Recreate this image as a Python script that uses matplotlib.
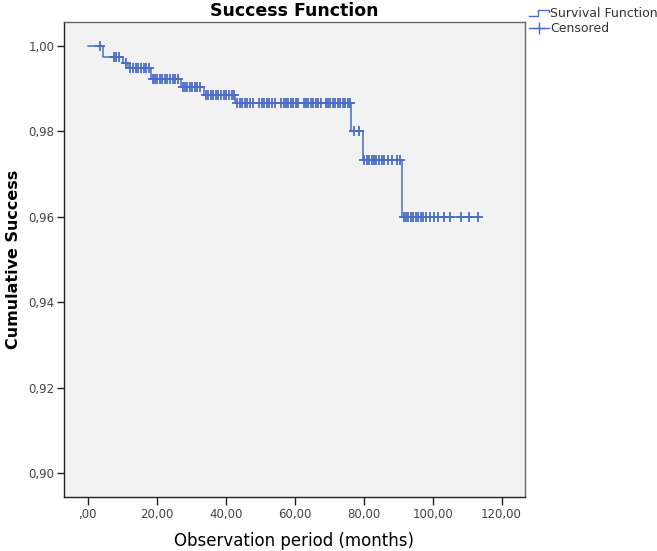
import numpy as np
import matplotlib
matplotlib.use("Agg")
import matplotlib.pyplot as plt
from matplotlib.lines import Line2D
from matplotlib.legend_handler import HandlerBase

# Kaplan-Meier Stufen (Ereigniszeitpunkte und Erfolgsrate)
event_times = [0.0, 4.3, 10.2, 11.6, 18.3, 27.0, 33.8, 42.8, 76.3, 79.7, 91.2]
survival = [1.0, 0.9974, 0.9961, 0.9948, 0.9922, 0.9905, 0.9886, 0.9866, 0.9800, 0.9733, 0.9600]
last_time = 113.2

# Zensierte Beobachtungen (Monate)
censored_times = [
    3.7, 7.6, 8.3, 9.2, 11.0,
    12.3, 13.2, 13.9, 14.6, 15.4, 16.2, 17.0, 17.8,
    18.8, 19.5, 20.2, 20.9, 21.6, 22.4, 23.1, 23.9, 24.6, 25.4, 26.2,
    27.5, 28.2, 28.9, 29.6, 30.3, 31.0, 31.8, 32.6,
    34.3, 35.0, 35.7, 36.4, 37.2, 37.9, 38.7, 39.4, 40.2, 41.0, 41.8, 42.5,
    43.4, 44.1, 44.8, 45.5, 46.3, 47.1, 47.9,
    49.6, 50.4, 51.1, 51.9, 52.7, 53.5, 54.3,
    56.1, 56.8, 57.5, 58.2, 58.9, 59.6, 60.3, 61.1,
    62.6, 63.3, 64.0, 64.7, 65.4, 66.1, 66.9, 67.6,
    69.0, 69.7, 70.4, 71.1, 71.8, 72.5, 73.2, 73.9, 74.6, 75.4, 76.1,
    77.2, 78.6,
    80.2, 80.9, 81.6, 82.3, 83.0, 83.7, 84.4, 85.2, 86.0, 87.0, 88.3, 89.6, 90.6,
    91.6, 92.3, 93.0, 93.7, 94.4, 95.1, 95.8, 96.5, 97.3, 98.2, 99.2, 100.3, 101.5,
    103.3, 105.0, 108.1, 110.6, 113.2,
]

y_ticks = [0.90, 0.92, 0.94, 0.96, 0.98, 1.00]
y_tick_labels = ["0,90", "0,92", "0,94", "0,96", "0,98", "1,00"]
x_ticks = [0, 20, 40, 60, 80, 100, 120]
x_tick_labels = [",00", "20,00", "40,00", "60,00", "80,00", "100,00", "120,00"]

line_color = "#4a6cc4"


class HandlerStep(HandlerBase):
    # kleines Stufen-Symbol wie in SPSS
    def create_artists(self, legend, orig_handle, xdescent, ydescent,
                       width, height, fontsize, trans):
        x0 = -xdescent
        y0 = -ydescent
        xs = [x0, x0 + width * 0.45, x0 + width * 0.45, x0 + width, x0 + width]
        ys = [y0 + height * 0.15, y0 + height * 0.15, y0 + height * 0.85,
              y0 + height * 0.85, y0 + height * 0.55]
        ln = Line2D(xs, ys, color=orig_handle.get_color(), lw=1.0, transform=trans)
        return [ln]


fig = plt.figure(figsize=(6.57, 5.51), dpi=100)
ax = fig.add_axes([64 / 657, 1 - 497 / 551, (525 - 64) / 657, (497 - 22) / 551])
ax.set_facecolor("#f2f2f2")

# Stufenfunktion
times = list(event_times) + [last_time]
values = list(survival) + [survival[-1]]
step_line, = ax.step(times, values, where="post", color=line_color, lw=1.1)

# Zensierte Punkte auf der Kurve
idx = np.searchsorted(event_times, censored_times, side="right") - 1
cens_y = np.array(survival)[idx]
ax.plot(censored_times, cens_y, linestyle="none", marker="+", markersize=6.5,
        markeredgewidth=1.3, color=line_color)

ax.set_xlim(-6.87, 126.8)
ax.set_ylim(0.89438, 1.00562)
ax.set_xticks(x_ticks)
ax.set_xticklabels(x_tick_labels)
ax.set_yticks(y_ticks)
ax.set_yticklabels(y_tick_labels)
ax.tick_params(axis="both", direction="out", length=5, width=1.0, pad=2,
               colors="#222222", labelsize=8.5, labelcolor="#444444")
ax.tick_params(axis="x", length=6)
for side in ["left", "bottom"]:
    ax.spines[side].set_color("#222222")
    ax.spines[side].set_linewidth(1.0)
for side in ["top", "right"]:
    ax.spines[side].set_color("#666666")
    ax.spines[side].set_linewidth(1.0)

ax.set_title("Success Function", fontsize=12.5, fontweight="bold", pad=4)
ax.set_xlabel("Observation period (months)", fontsize=12, labelpad=8)
ax.set_ylabel("Cumulative Success", fontsize=11.5, fontweight="bold", labelpad=5)

# Legende rechts oben ausserhalb
surv_handle = Line2D([], [], color=line_color)
cens_handle = Line2D([], [], color=line_color, marker="+", markersize=8, lw=1.0)
fig.legend([surv_handle, cens_handle], ["Survival Function", "Censored"],
           handler_map={surv_handle: HandlerStep()},
           loc="upper left", bbox_to_anchor=(524 / 657, 1 - 2 / 551),
           frameon=False, fontsize=9, handlelength=1.6, handletextpad=0.1,
           labelspacing=0.15, borderaxespad=0, labelcolor="#333333")

fig.savefig("out.png", dpi=100)
